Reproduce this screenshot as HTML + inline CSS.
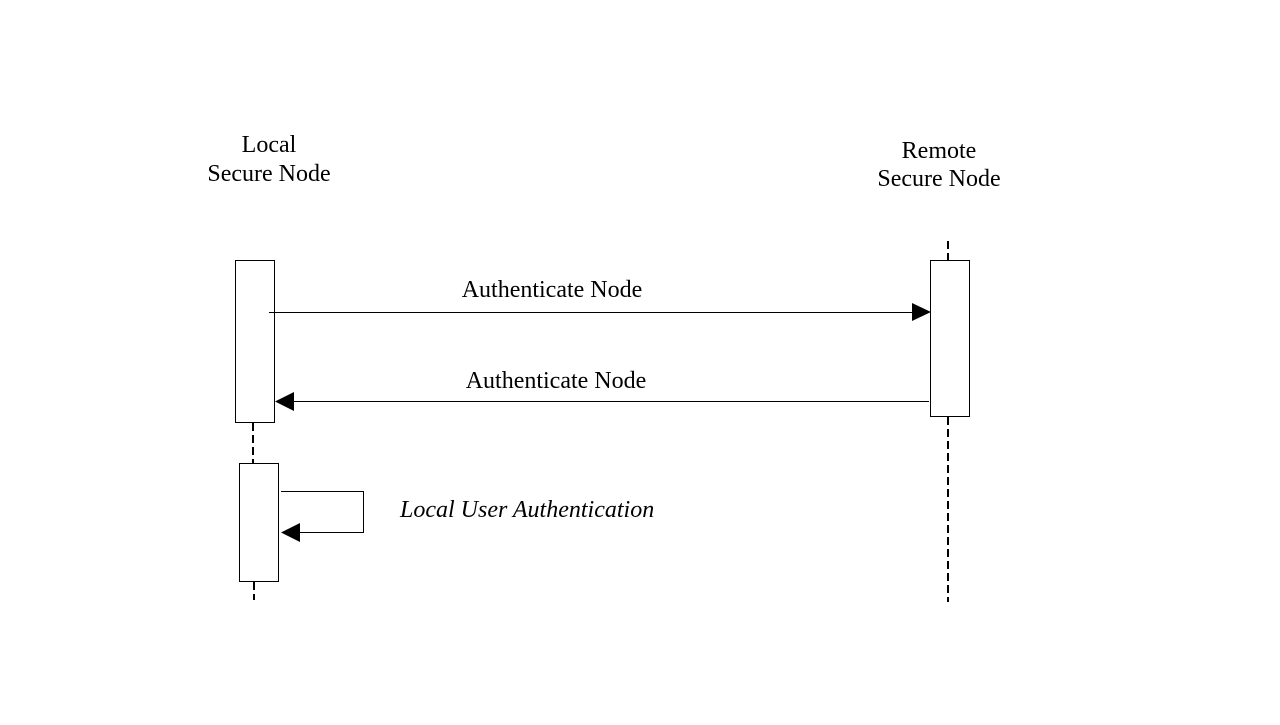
<!DOCTYPE html>
<html><head><style>body{margin:0;background:#fff}</style></head><body>
<svg width="1280" height="720" xmlns="http://www.w3.org/2000/svg" font-family="Liberation Serif, serif" font-size="24">
<rect width="1280" height="720" fill="#fff"/>
<text x="269" y="152" text-anchor="middle">Local</text>
<text x="269" y="181" text-anchor="middle">Secure Node</text>
<text x="939" y="158" text-anchor="middle">Remote</text>
<text x="939" y="186" text-anchor="middle">Secure Node</text>
<g stroke="#000" stroke-width="2" stroke-dasharray="8,4">
<line x1="253" y1="423" x2="253" y2="463"/>
<line x1="254" y1="582" x2="254" y2="600"/>
<line x1="948" y1="241" x2="948" y2="260"/>
<line x1="948" y1="417" x2="948" y2="602"/>
</g>
<g fill="#fff" stroke="#000" stroke-width="1">
<rect x="235.5" y="260.5" width="39" height="162"/>
<rect x="239.5" y="463.5" width="39" height="118"/>
<rect x="930.5" y="260.5" width="39" height="156"/>
</g>
<g stroke="#000" stroke-width="1" fill="none">
<line x1="269" y1="312.5" x2="914" y2="312.5"/>
<line x1="292" y1="401.5" x2="929" y2="401.5"/>
<polyline points="281,491.5 363.5,491.5 363.5,532.5 298,532.5"/>
</g>
<polygon points="912,303 931,312 912,321" fill="#000"/>
<polygon points="294,392 275,401.5 294,411" fill="#000"/>
<polygon points="300,523 281,532.5 300,542" fill="#000"/>
<text x="552" y="297" text-anchor="middle">Authenticate Node</text>
<text x="556" y="388" text-anchor="middle">Authenticate Node</text>
<text x="400" y="517" font-style="italic">Local User Authentication</text>
</svg>
</body></html>
